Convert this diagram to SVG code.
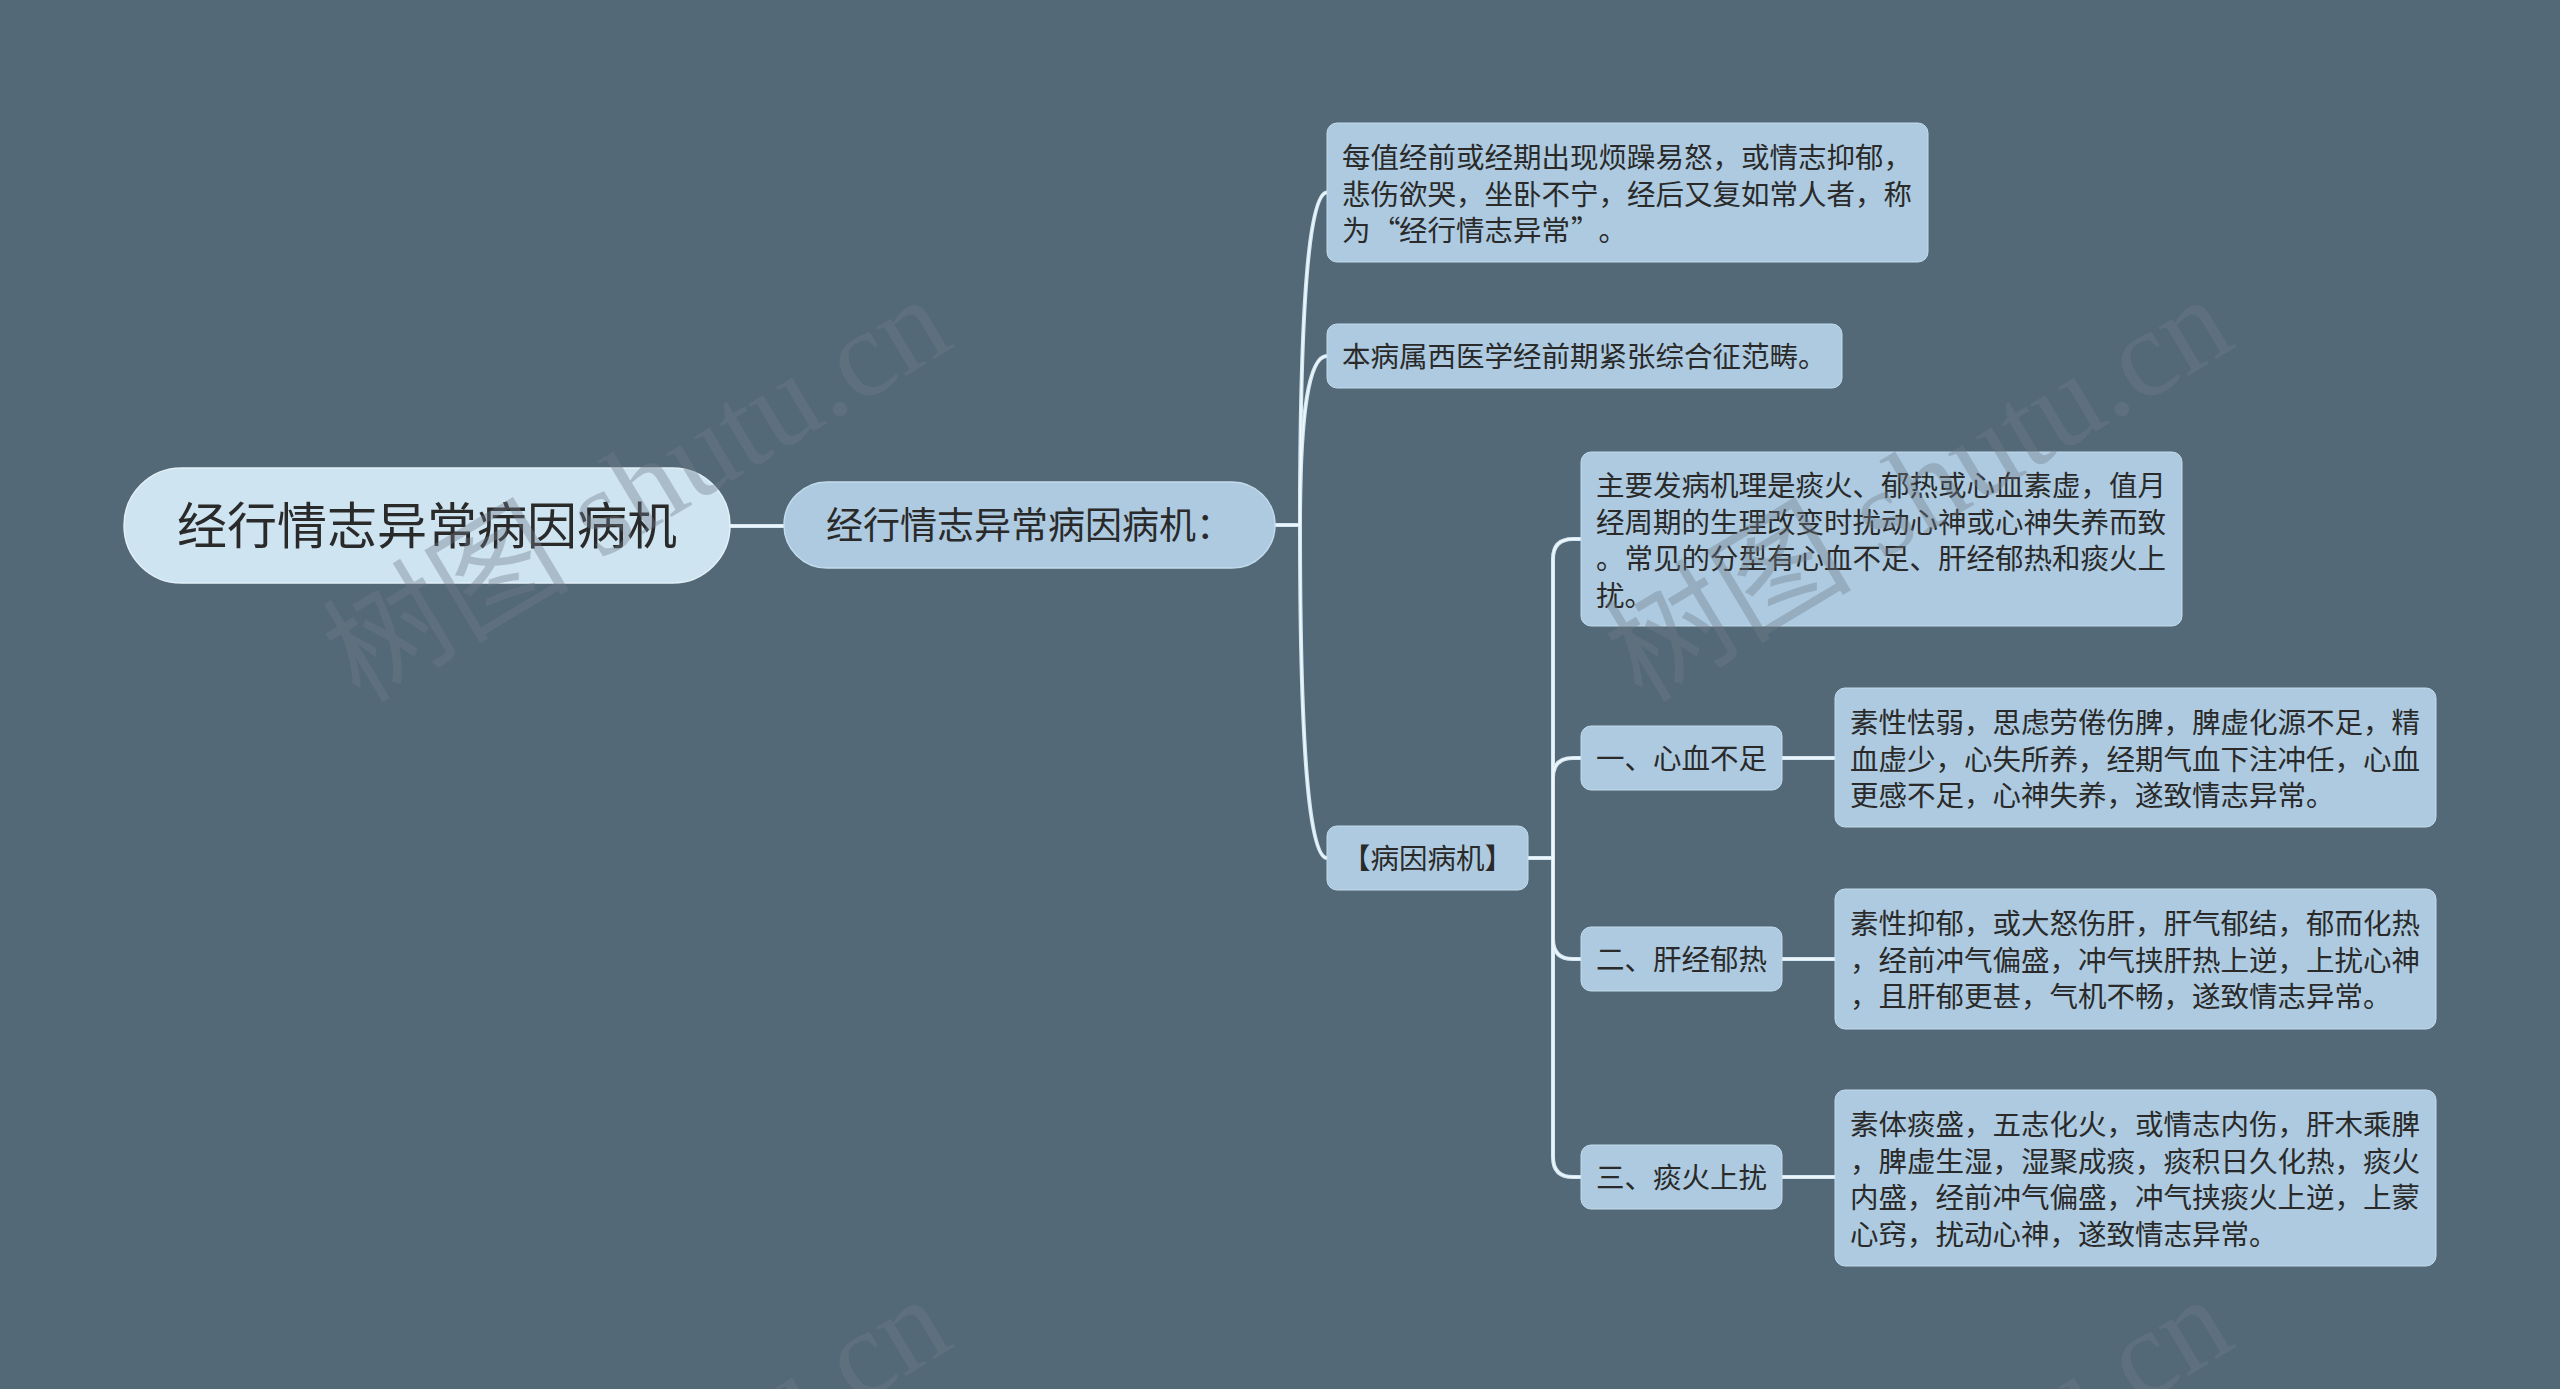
<svg xmlns="http://www.w3.org/2000/svg" width="2560" height="1389" viewBox="0 0 2560 1389">
<style>
.bg{fill:#536977}
.wm{font-family:"Liberation Serif","Noto Sans CJK SC",serif;font-size:124px;fill:#707c8a;fill-opacity:0.38}
.root{fill:#cee4f1;stroke:#e3f0f8;stroke-width:1.5}
.n2{fill:#adcae0;stroke:#c3dbec;stroke-width:1.5}
.nd{fill:#adcae0;stroke:#c3dbec;stroke-width:1}
.t{font-family:"Noto Sans CJK SC","Noto Sans",sans-serif;fill:#2a2a2a}
.s{font-size:28.5px}
.lk{fill:none;stroke:#d3e7f2;stroke-width:4;stroke-linecap:round}
.lc{fill:none;stroke:#f4fafd;stroke-width:1.3;stroke-linecap:round}
</style>
<rect class="bg" x="0" y="0" width="2560" height="1389"/>

<g id="connectors">
  <g>
    <path class="lk" d="M730,526 H784"/>
    <path class="lk" d="M1275,525 H1300"/>
    <path class="lk" d="M1300,525 Q1300,192.5 1327,192.5"/>
    <path class="lk" d="M1300,525 Q1300,356 1327,356"/>
    <path class="lk" d="M1300,525 Q1300,858 1327,858"/>
    <path class="lk" d="M1527,858 H1553"/>
    <path class="lk" d="M1553,858 V559 Q1553,539 1573,539 H1581"/>
    <path class="lk" d="M1553,858 V778 Q1553,758 1573,758 H1581"/>
    <path class="lk" d="M1553,858 V939 Q1553,959 1573,959 H1581"/>
    <path class="lk" d="M1553,858 V1157 Q1553,1177 1573,1177 H1581"/>
    <path class="lk" d="M1781,758 H1835"/>
    <path class="lk" d="M1781,959 H1835"/>
    <path class="lk" d="M1781,1177 H1835"/>
  </g>
  <g>
    <path class="lc" d="M730,526 H784"/>
    <path class="lc" d="M1275,525 H1300"/>
    <path class="lc" d="M1300,525 Q1300,192.5 1327,192.5"/>
    <path class="lc" d="M1300,525 Q1300,356 1327,356"/>
    <path class="lc" d="M1300,525 Q1300,858 1327,858"/>
    <path class="lc" d="M1527,858 H1553"/>
    <path class="lc" d="M1553,858 V559 Q1553,539 1573,539 H1581"/>
    <path class="lc" d="M1553,858 V778 Q1553,758 1573,758 H1581"/>
    <path class="lc" d="M1553,858 V939 Q1553,959 1573,959 H1581"/>
    <path class="lc" d="M1553,858 V1157 Q1553,1177 1573,1177 H1581"/>
    <path class="lc" d="M1781,758 H1835"/>
    <path class="lc" d="M1781,959 H1835"/>
    <path class="lc" d="M1781,1177 H1835"/>
  </g>
</g>

<g id="root">
  <rect class="root" x="124" y="468" width="606" height="115" rx="57.5"/>
  <text class="t" x="427" y="544" font-size="50" text-anchor="middle">经行情志异常病因病机</text>
</g>

<g id="main">
  <rect class="n2" x="784" y="482" width="491" height="86" rx="43"/>
  <text class="t" x="826" y="539" font-size="37">经行情志异常病因病机：</text>
</g>

<g id="nodeA">
  <rect class="nd" x="1327" y="123" width="601" height="139" rx="10"/>
  <text class="t s" x="1342" y="168">每值经前或经期出现烦躁易怒，或情志抑郁，</text>
  <text class="t s" x="1342" y="204.7">悲伤欲哭，坐卧不宁，经后又复如常人者，称</text>
  <text class="t s" y="241.4"><tspan x="1342">为</tspan><tspan x="1372">“</tspan><tspan x="1399">经行情志异常</tspan><tspan x="1571">”</tspan><tspan x="1598.5">。</tspan></text>
</g>

<g id="nodeB">
  <rect class="nd" x="1327" y="324" width="515" height="64" rx="10"/>
  <text class="t s" x="1342" y="367">本病属西医学经前期紧张综合征范畴。</text>
</g>

<g id="nodeC">
  <rect class="nd" x="1327" y="826" width="201" height="64" rx="10"/>
  <text class="t s" x="1342" y="869">【病因病机】</text>
</g>

<g id="nodeD">
  <rect class="nd" x="1581" y="452" width="601" height="174" rx="10"/>
  <text class="t s" x="1596" y="496">主要发病机理是痰火、郁热或心血素虚，值月</text>
  <text class="t s" x="1596" y="532.7">经周期的生理改变时扰动心神或心神失养而致</text>
  <text class="t s" x="1596" y="569.4">。常见的分型有心血不足、肝经郁热和痰火上</text>
  <text class="t s" x="1596" y="606.1">扰。</text>
</g>

<g id="nodeE">
  <rect class="nd" x="1581" y="726" width="201" height="64" rx="10"/>
  <text class="t s" x="1596" y="769">一、心血不足</text>
</g>

<g id="nodeF">
  <rect class="nd" x="1581" y="927" width="201" height="64" rx="10"/>
  <text class="t s" x="1596" y="970">二、肝经郁热</text>
</g>

<g id="nodeG">
  <rect class="nd" x="1581" y="1145" width="201" height="64" rx="10"/>
  <text class="t s" x="1596" y="1188">三、痰火上扰</text>
</g>

<g id="nodeH">
  <rect class="nd" x="1835" y="688" width="601" height="139" rx="10"/>
  <text class="t s" x="1850" y="733">素性怯弱，思虑劳倦伤脾，脾虚化源不足，精</text>
  <text class="t s" x="1850" y="769.7">血虚少，心失所养，经期气血下注冲任，心血</text>
  <text class="t s" x="1850" y="806.4">更感不足，心神失养，遂致情志异常。</text>
</g>

<g id="nodeI">
  <rect class="nd" x="1835" y="889" width="601" height="140" rx="10"/>
  <text class="t s" x="1850" y="934">素性抑郁，或大怒伤肝，肝气郁结，郁而化热</text>
  <text class="t s" x="1850" y="970.7">，经前冲气偏盛，冲气挟肝热上逆，上扰心神</text>
  <text class="t s" x="1850" y="1007.4">，且肝郁更甚，气机不畅，遂致情志异常。</text>
</g>

<g id="nodeJ">
  <rect class="nd" x="1835" y="1090" width="601" height="176" rx="10"/>
  <text class="t s" x="1850" y="1135">素体痰盛，五志化火，或情志内伤，肝木乘脾</text>
  <text class="t s" x="1850" y="1171.7">，脾虚生湿，湿聚成痰，痰积日久化热，痰火</text>
  <text class="t s" x="1850" y="1208.4">内盛，经前冲气偏盛，冲气挟痰火上逆，上蒙</text>
  <text class="t s" x="1850" y="1245.1">心窍，扰动心神，遂致情志异常。</text>
</g>

<g id="watermarks">
  <text class="wm" transform="translate(360,704) rotate(-31)">树图 shutu.cn</text>
  <text class="wm" transform="translate(1642,704) rotate(-31)">树图 shutu.cn</text>
  <text class="wm" transform="translate(360,1704) rotate(-31)">树图 shutu.cn</text>
  <text class="wm" transform="translate(1642,1704) rotate(-31)">树图 shutu.cn</text>
</g>
</svg>
